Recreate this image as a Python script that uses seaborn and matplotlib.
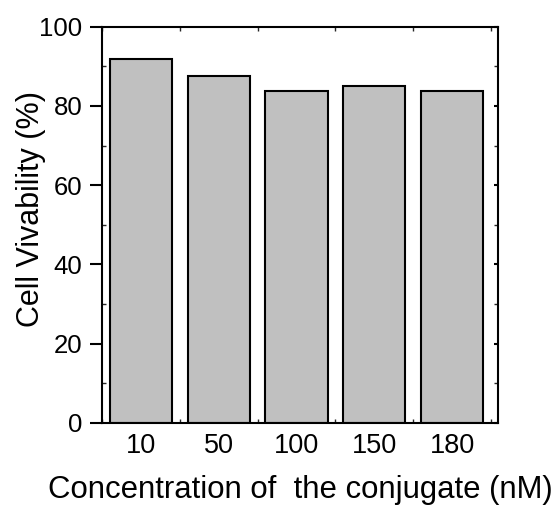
import matplotlib
matplotlib.use("Agg")
import matplotlib.pyplot as plt
from matplotlib.ticker import MultipleLocator
import seaborn as sns
import pandas as pd

# data
concentrations = ["10", "50", "100", "150", "180"]
viability = [91.8, 87.6, 83.9, 85.1, 83.7]

sns.set_style("ticks")
plt.rcParams["font.family"] = ["Liberation Sans", "DejaVu Sans"]

df = pd.DataFrame({"conc": concentrations, "viab": viability})

fig = plt.figure(figsize=(5.59, 5.09), dpi=100)
ax = fig.add_axes([0.1825, 0.169, 0.7085, 0.7785])

sns.barplot(data=df, x="conc", y="viab", order=concentrations, color="#c0c0c0",
            saturation=1, edgecolor="black", linewidth=1.5, width=0.8, ax=ax)

ax.set_xlim(-0.5, 4.59)
ax.set_ylim(0, 100)
ax.yaxis.set_major_locator(MultipleLocator(20))
ax.yaxis.set_minor_locator(MultipleLocator(10))
ax.xaxis.set_minor_locator(MultipleLocator(0.5))

for s in ax.spines.values():
    s.set_visible(True)
    s.set_linewidth(1.5)
    s.set_color("black")

ax.tick_params(axis="y", which="major", direction="out", length=9, width=1.5,
               labelsize=18.5, pad=5, left=True, right=True, colors="black")
ax.tick_params(axis="y", which="minor", direction="in", length=3, width=1,
               left=True, right=True)
ax.tick_params(axis="x", which="major", length=0, labelsize=19.5, pad=7, colors="black")
ax.tick_params(axis="x", which="minor", direction="in", length=3, width=1,
               bottom=True, top=True)

# right-side major ticks go inward
for t in ax.yaxis.get_major_ticks():
    t.tick2line.set_marker(matplotlib.lines.TICKLEFT)
    t.tick2line.set_markersize(3)

ax.set_xlabel("Concentration of  the conjugate (nM)", fontsize=22.4, labelpad=12, color="black")
ax.set_ylabel("Cell Vivability (%)", fontsize=22, labelpad=-5, y=0.541, color="black")

fig.savefig("out.png", dpi=100)
